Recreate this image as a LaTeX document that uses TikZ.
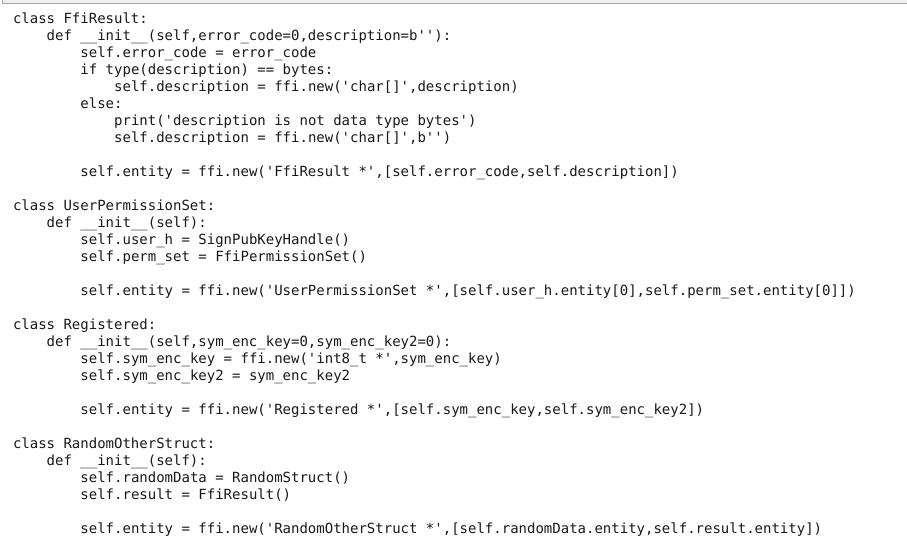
\documentclass[tikz,border=0pt]{standalone}
\usepackage{fontspec}
\setmonofont{DejaVu Sans Mono}
\begin{document}
\begin{tikzpicture}[x=1pt,y=1pt,
  codeline/.style={anchor=base west,inner sep=0pt,outer sep=0pt,font=\ttfamily\fontsize{14pt}{17pt}\selectfont,text=black!90}]
\useasboundingbox (0,0) rectangle (907,-550);
\fill[white] (0,0) rectangle (907,-550);
\fill[black!6] (2.5,0) rectangle (907,-3.5);
\draw[black!35,line width=0.8pt] (2.5,0) -- (2.5,-3.5) -- (907,-3.5);
\newcommand{\cl}[4]{\node[codeline] (#1) at ({13+#2*8.43},{-(23.5+17*(#3-1))}) {#4};}
\cl{l1}{0}{1}{class FfiResult:}
\cl{l2}{4}{2}{def \_\_init\_\_(self,error\_code=0,description=b''):}
\cl{l3}{8}{3}{self.error\_code = error\_code}
\cl{l4}{8}{4}{if type(description) == bytes:}
\cl{l5}{12}{5}{self.description = ffi.new('char[]',description)}
\cl{l6}{8}{6}{else:}
\cl{l7}{12}{7}{print('description is not data type bytes')}
\cl{l8}{12}{8}{self.description = ffi.new('char[]',b'')}
\cl{l10}{8}{10}{self.entity = ffi.new('FfiResult *',[self.error\_code,self.description])}
\cl{l12}{0}{12}{class UserPermissionSet:}
\cl{l13}{4}{13}{def \_\_init\_\_(self):}
\cl{l14}{8}{14}{self.user\_h = SignPubKeyHandle()}
\cl{l15}{8}{15}{self.perm\_set = FfiPermissionSet()}
\cl{l17}{8}{17}{self.entity = ffi.new('UserPermissionSet *',[self.user\_h.entity[0],self.perm\_set.entity[0]])}
\cl{l19}{0}{19}{class Registered:}
\cl{l20}{4}{20}{def \_\_init\_\_(self,sym\_enc\_key=0,sym\_enc\_key2=0):}
\cl{l21}{8}{21}{self.sym\_enc\_key = ffi.new('int8\_t *',sym\_enc\_key)}
\cl{l22}{8}{22}{self.sym\_enc\_key2 = sym\_enc\_key2}
\cl{l24}{8}{24}{self.entity = ffi.new('Registered *',[self.sym\_enc\_key,self.sym\_enc\_key2])}
\cl{l26}{0}{26}{class RandomOtherStruct:}
\cl{l27}{4}{27}{def \_\_init\_\_(self):}
\cl{l28}{8}{28}{self.randomData = RandomStruct()}
\cl{l29}{8}{29}{self.result = FfiResult()}
\cl{l31}{8}{31}{self.entity = ffi.new('RandomOtherStruct *',[self.randomData.entity,self.result.entity])}
\end{tikzpicture}
\end{document}
